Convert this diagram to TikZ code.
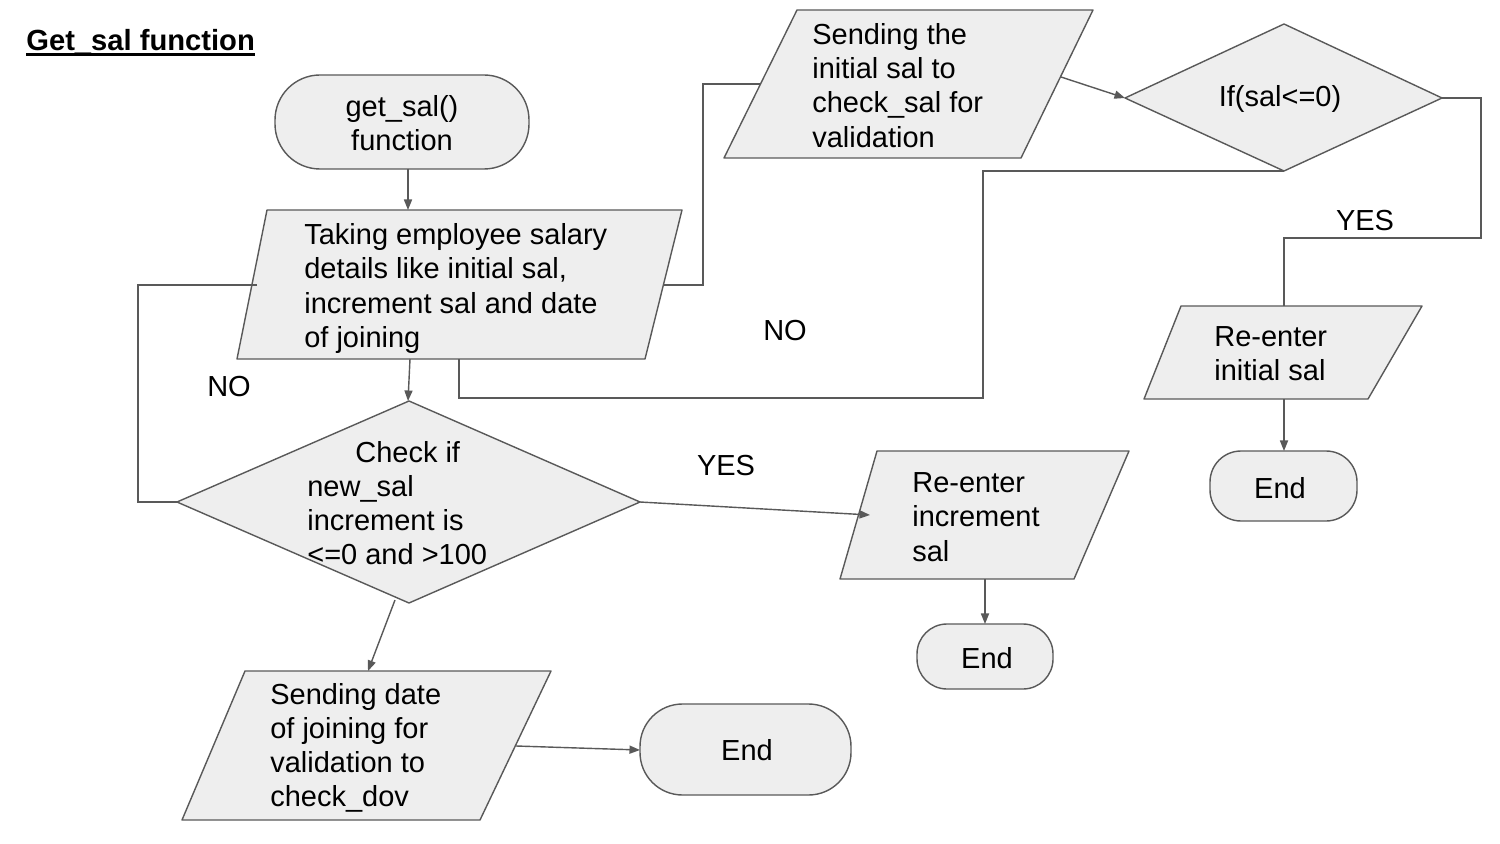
\documentclass[tikz,border=0pt]{standalone}
\usepackage{fontspec}
\setmainfont{Liberation Sans}
\usetikzlibrary{arrows.meta}
\definecolor{lc}{HTML}{595959}
\definecolor{fc}{HTML}{EEEEEE}
\begin{document}
\begin{tikzpicture}[x=0.02cm,y=-0.02cm,
  shp/.style={draw=lc,fill=fc,line width=0.8pt,line join=round},
  conn/.style={draw=lc,line width=0.8pt},
  arr/.style={conn,-{Triangle[length=6pt,width=4.6pt]}},
  txt/.style={font=\fontsize{16.5}{19.45}\selectfont,inner sep=0pt,align=left,text=black},
  lbl/.style={font=\fontsize{16.5}{19.45}\selectfont,inner sep=0pt,text=black}]
\useasboundingbox (0,0) rectangle (1500,844);

% title
\node[lbl,font=\fontsize{16.6}{19.45}\selectfont\bfseries,anchor=base west] (title) at (26,51) {Get\_sal function};
\draw[black,line width=1.2pt] (title.base west) ++(0,3.5) coordinate (ul1) -- (ul1 -| title.base east);

% shapes
\draw[shp,rounded corners=0.9cm] (275,75) rectangle (529,169);
\draw[shp] (267,210) -- (682,210) -- (645,359) -- (237,359) -- cycle;
\draw[shp] (177,502) -- (409,401) -- (640,502) -- (409,603) -- cycle;
\draw[shp] (245,671) -- (551,671) -- (480,820) -- (182,820) -- cycle;
\draw[shp,rounded corners=0.85cm] (640,704) rectangle (851,795);
\draw[shp] (877,451) -- (1129,451) -- (1074,579) -- (840,579) -- cycle;
\draw[shp,rounded corners=0.6cm] (917,624) rectangle (1053,689);
\draw[shp] (797,10) -- (1093,10) -- (1021,158) -- (724,158) -- cycle;
\draw[shp] (1125,98) -- (1284,24) -- (1442,98) -- (1284,171) -- cycle;
\draw[shp] (1181,306) -- (1422,306) -- (1368,399) -- (1144,399) -- cycle;
\draw[shp,rounded corners=0.62cm] (1210,451) rectangle (1357,521);

% texts
\node[txt,align=center] (gs) at (402,123) {get\_sal()\\function};
\node[txt,anchor=west] (tk) at (304,288.5) {Taking employee salary\\details like initial sal,\\increment sal and date\\of joining};
\node[txt,anchor=west] (ck) at (307,503) {\hspace*{0.96cm}Check if\\new\_sal\\increment is\\<=0 and >100};
\node[txt,anchor=west] (sd) at (270,748) {Sending date\\of joining for\\validation to\\check\_dov};
\node[lbl] (e1) at (747,750) {End};
\node[txt,anchor=west] (ri) at (912,517) {Re-enter\\increment\\sal};
\node[lbl] (e2) at (987,658) {End};
\node[txt,anchor=west] (si) at (812,85.5) {Sending the\\initial sal to\\check\_sal for\\validation};
\node[lbl] (ifn) at (1280,99) {If(sal<=0)};
\node[txt,anchor=west] (rs) at (1214,354) {Re-enter\\initial sal};
\node[lbl] (e3) at (1280,488) {End};

% labels
\node[lbl] (no1) at (229,387) {NO};
\node[lbl] (no2) at (785,331) {NO};
\node[lbl] (yes1) at (726,466) {YES};
\node[lbl] (yes2) at (1365,221) {YES};

% connection points
\coordinate (gsB) at (408,169);
\coordinate (tkT) at (408,210);
\coordinate (tkB) at (410,359);
\coordinate (tkL) at (257,285);
\coordinate (tkR) at (663,285);
\coordinate (tkB2) at (459,359);
\coordinate (ckT) at (408,401);
\coordinate (ckL) at (177,502);
\coordinate (ckR) at (640,502);
\coordinate (ckB) at (395,600);
\coordinate (sdT) at (368,671);
\coordinate (sdR) at (516,746);
\coordinate (e1L) at (640,750);
\coordinate (riL) at (870,515);
\coordinate (riB) at (985,579);
\coordinate (e2T) at (985,624);
\coordinate (siL) at (760,84);
\coordinate (siR) at (1061,77);
\coordinate (ifL) at (1125,98);
\coordinate (ifR) at (1442,98);
\coordinate (ifB) at (1284,171);
\coordinate (rsT) at (1284,306);
\coordinate (rsB) at (1284,399);
\coordinate (e3T) at (1284,451);

% connectors
\draw[arr] (gsB) -- (tkT);
\draw[arr] (tkB) -- (ckT);
\draw[arr] (ckR) -- (riL);
\draw[arr] (ckB) -- (sdT);
\draw[arr] (sdR) -- (e1L);
\draw[arr] (riB) -- (e2T);
\draw[arr] (siR) -- (ifL);
\draw[arr] (rsB) -- (e3T);
\draw[conn] (tkL) -- (138,285) -- (138,502) -- (ckL);
\draw[conn] (tkR) -- (703,285) -- (703,84) -- (siL);
\draw[conn] (ifB) -- (983,171) -- (983,398) -- (459,398) -- (tkB2);
\draw[conn] (ifR) -- (1481,98) -- (1481,238) -- (1284,238) -- (rsT);
\end{tikzpicture}
\end{document}
